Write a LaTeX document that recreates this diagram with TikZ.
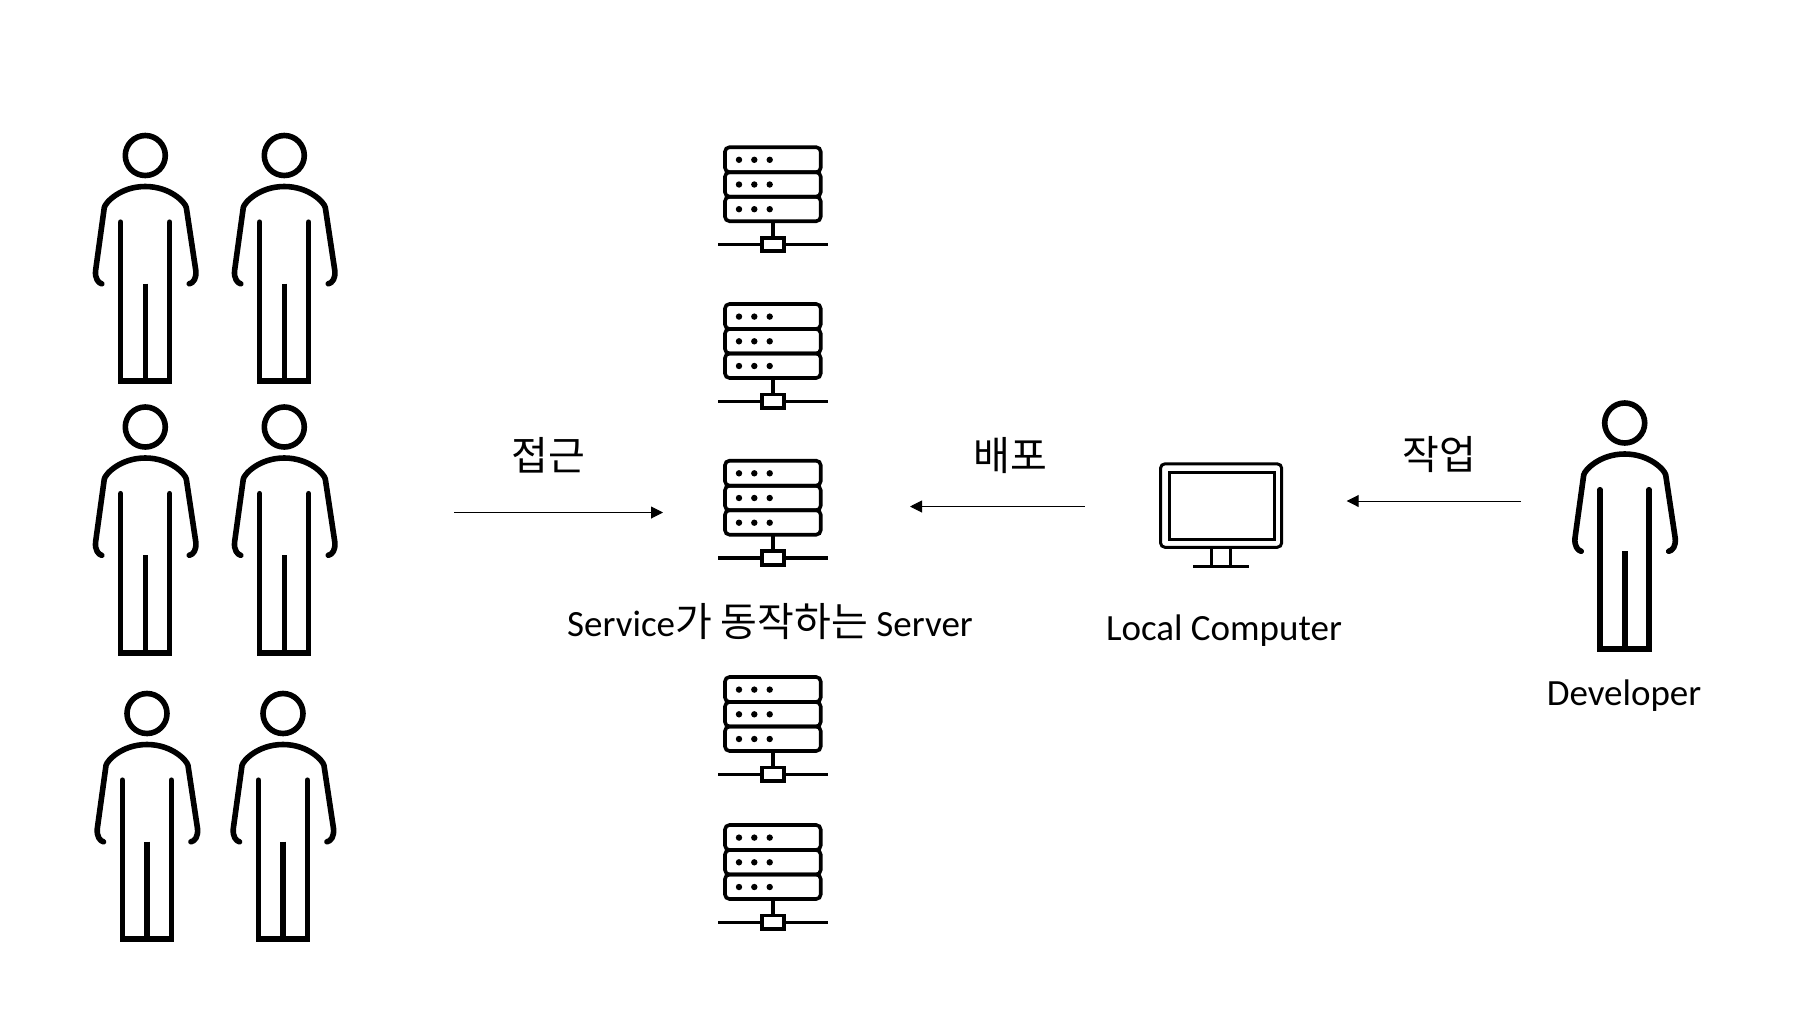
\documentclass[tikz,border=0pt]{standalone}
\usepackage{fontspec}
\setmainfont{Carlito}
\newfontfamily\cjk{Noto Sans CJK KR}
\usetikzlibrary{arrows.meta}
\tikzset{
	figline/.style={line width=5.6pt, line cap=round, line join=round},
	rackline/.style={line width=3.6pt, rounded corners=4.5pt},
	flowarrow/.style={line width=1pt, -{Triangle[length=12pt,width=12pt]}},
	caption/.style={anchor=base, inner sep=0pt, font=\fontsize{37}{44}\selectfont},
	hangul/.style={anchor=center, inner sep=0pt, font=\cjk\fontsize{40}{46}\selectfont}
}
\def\person(#1,#2){
	\begin{scope}[shift={(#1,#2)}]
		\draw[figline] (0, 0) circle (20);
		\draw[figline] (-43.5, 128.3) .. controls (-47, 127.5) and (-50.5, 123) .. (-49.7, 115) -- (-41, 52) .. controls (-40, 47) and (-25, 31) .. (0, 31) .. controls (25, 31) and (40, 47) .. (41, 52) -- (50.5, 115) .. controls (51.3, 123) and (48, 127.5) .. (44, 128.3);
		\draw[figline, line join=miter] (-24.7, 66.7) -- (-24.7, 225.7) -- (24.3, 225.7) -- (24.3, 66.7);
		\draw[line width=5.6pt] (0, 128) -- (0, 225.7);
	\end{scope}
}
\def\rack(#1,#2){
	\begin{scope}[shift={(#1,#2)}]
		\draw[rackline] (-47.7, 0) rectangle (48, 25);
		\draw[rackline] (-47.7, 25) rectangle (48, 49.5);
		\draw[rackline] (-47.7, 49.5) rectangle (48, 74);
		\fill (-33.7, 12.6) circle (3.2) (-18.4, 12.6) circle (3.2) (-3, 12.6) circle (3.2);
		\fill (-33.7, 37.3) circle (3.2) (-18.4, 37.3) circle (3.2) (-3, 37.3) circle (3.2);
		\fill (-33.7, 62) circle (3.2) (-18.4, 62) circle (3.2) (-3, 62) circle (3.2);
		\draw[line width=3.6pt] (0, 74) -- (0, 90.5);
		\draw[line width=3.6pt] (-54.7, 97.3) -- (55.6, 97.3);
		\draw[line width=3.6pt, fill=white] (-10.7, 90.5) rectangle (11.3, 104);
	\end{scope}
}
\begin{document}
\begin{tikzpicture}[x=1pt, y=-1pt]
	\useasboundingbox (0, 0) rectangle (1802, 1018);
	%%%%% USERS %%%%%
	\person(145.3, 155.5)
	\person(284.3, 155.5)
	\person(145.3, 427)
	\person(284.3, 427)
	\person(147, 713.5)
	\person(283, 713.5)
	
	%%%%% SERVERS %%%%%
	\rack(772.7, 147.2)
	\rack(772.7, 304)
	\rack(772.7, 460.7)
	\rack(772.7, 677)
	\rack(772.7, 825)
	
	%%%%% COMPUTER %%%%%
	\draw[line width=3pt, rounded corners=4.5pt] (1160.5, 463.8) rectangle (1281.7, 547.3);
	\draw[line width=3pt] (1169, 472) rectangle (1274, 539.3);
	\draw[line width=3pt] (1211.7, 547.3) -- (1211.7, 566);
	\draw[line width=3pt] (1230, 547.3) -- (1230, 566);
	\draw[line width=3pt] (1193.3, 566) -- (1248.7, 566);
	
	%%%%% DEVELOPER %%%%%
	\person(1624.7, 423)
	
	%%%%% FLOW %%%%%
	\coordinate (accessFrom) at (454.3, 512.5);
	\coordinate (accessTo) at (663, 512.5);
	\coordinate (deployFrom) at (1084.5, 506.5);
	\coordinate (deployTo) at (910, 506.5);
	\coordinate (workFrom) at (1521, 501);
	\coordinate (workTo) at (1346.7, 501);
	\draw[flowarrow] (accessFrom) -- (accessTo);
	\draw[flowarrow] (deployFrom) -- (deployTo);
	\draw[flowarrow] (workFrom) -- (workTo);
	
	\node[hangul] (accessLabel) at (548, 455.5) {접근};
	\node[hangul] (deployLabel) at (1010.5, 456) {배포};
	\node[hangul] (workLabel) at (1439, 455) {작업};
	\node[caption] (serverLabel) at (770, 636) {Service{\cjk\fontsize{40}{46}\selectfont 가 동작하는} Server};
	\node[caption] (computerLabel) at (1224, 640) {Local Computer};
	\node[caption] (developerLabel) at (1624, 705) {Developer};
\end{tikzpicture}
\end{document}
